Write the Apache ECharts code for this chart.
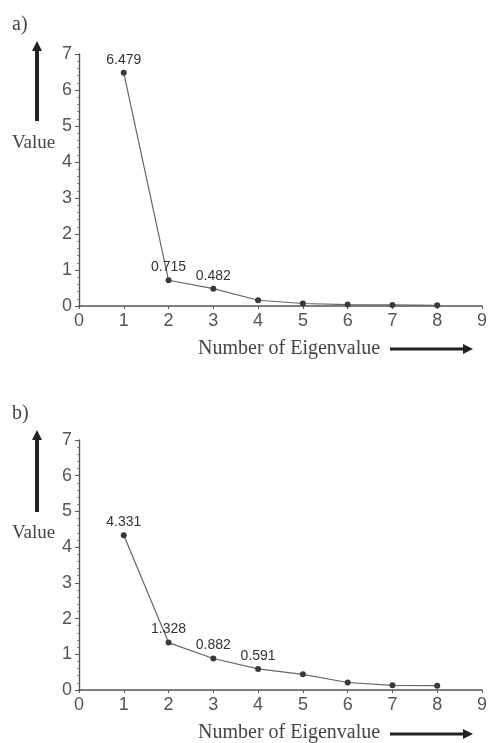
<!DOCTYPE html>
<html>
<head>
<meta charset="utf-8">
<script src="https://cdn.jsdelivr.net/npm/echarts@6/dist/echarts.min.js"></script>
<style>
html,body{margin:0;padding:0;background:#fff;}
#chart{width:490px;height:743px;}
</style>
</head>
<body>
<div id="chart"></div>
<script>
// Data
const eigenNumbers = [1, 2, 3, 4, 5, 6, 7, 8];
const valuesA = [6.479, 0.715, 0.482, 0.16, 0.07, 0.04, 0.03, 0.02];
const labeledA = [true, true, true, false, false, false, false, false];
const valuesB = [4.331, 1.328, 0.882, 0.591, 0.44, 0.21, 0.13, 0.12];
const labeledB = [true, true, true, true, false, false, false, false];
const xTicks = [0, 1, 2, 3, 4, 5, 6, 7, 8, 9];
const yTicks = [0, 1, 2, 3, 4, 5, 6, 7];
const panelLabels = ['a)', 'b)'];
const yTitle = 'Value';
const xTitle = 'Number of Eigenvalue';

const chart = echarts.init(document.getElementById('chart'));

function mkData(vals, flags) {
  return eigenNumbers.map((n, i) => ({
    value: [n, vals[i]],
    label: { show: flags[i] }
  }));
}

const axisColor = '#555';
function xAxis(gi) {
  return {
    gridIndex: gi, type: 'value',
    min: xTicks[0], max: xTicks[xTicks.length - 1], interval: 1,
    axisLine: { lineStyle: { color: axisColor, width: 1.6 } },
    axisTick: { show: true, length: 3, lineStyle: { color: axisColor } },
    splitLine: { show: false },
    axisLabel: { color: '#555', fontSize: 18, fontFamily: 'Liberation Sans', margin: 6 }
  };
}
function yAxis(gi) {
  return {
    gridIndex: gi, type: 'value',
    min: yTicks[0], max: yTicks[yTicks.length - 1], interval: 1,
    axisLine: { show: true, lineStyle: { color: axisColor, width: 1.4 } },
    axisTick: { show: true, length: 4, inside: false, lineStyle: { color: axisColor } },
    minorTick: { show: true, splitNumber: 5, length: 2, lineStyle: { color: '#888' } },
    splitLine: { show: false },
    axisLabel: { color: '#555', fontSize: 18, fontFamily: 'Liberation Sans', margin: 7 }
  };
}
function series(gi, vals, flags) {
  return {
    type: 'line', xAxisIndex: gi, yAxisIndex: gi,
    data: mkData(vals, flags),
    symbol: 'circle', symbolSize: 6,
    lineStyle: { color: '#666', width: 1.2 },
    itemStyle: { color: '#3a3a3a' },
    label: {
      position: 'top', distance: 3,
      color: '#333', fontSize: 14, fontFamily: 'Liberation Sans',
      formatter: p => p.value[1].toFixed(3)
    },
    animation: false
  };
}

function arrowUp(x, y1, y2) {
  return [
    { type: 'line', shape: { x1: x, y1: y2, x2: x, y2: y1 + 8 }, style: { stroke: '#222', lineWidth: 4 } },
    { type: 'polygon', shape: { points: [[x - 5, y1 + 10], [x + 5, y1 + 10], [x, y1]] }, style: { fill: '#222' } }
  ];
}
function arrowRight(x1, x2, y) {
  return [
    { type: 'line', shape: { x1: x1, y1: y, x2: x2 - 8, y2: y }, style: { stroke: '#222', lineWidth: 3 } },
    { type: 'polygon', shape: { points: [[x2 - 10, y - 5], [x2 - 10, y + 5], [x2, y]] }, style: { fill: '#222' } }
  ];
}
const serif = 'Liberation Serif';
function txt(x, y, text, size) {
  return { type: 'text', x: x, y: y, style: { text: text, font: size + 'px ' + serif, fill: '#444', textVerticalAlign: 'middle', textAlign: 'left' } };
}
const graphics = [
  txt(12, 25, panelLabels[0], 20),
  txt(12, 414, panelLabels[1], 20),
  txt(12, 143, yTitle, 19),
  txt(12, 533, yTitle, 19),
  txt(198, 349, xTitle, 20),
  txt(198, 733, xTitle, 20),
  ...arrowUp(37, 41, 121),
  ...arrowUp(37, 430, 512),
  ...arrowRight(390, 473, 349),
  ...arrowRight(390, 473, 734)
];

chart.setOption({
  backgroundColor: '#fff',
  animation: false,
  grid: [
    { left: 79, right: 6, top: 54, height: 252 },
    { left: 79, right: 6, top: 440, height: 250 }
  ],
  xAxis: [xAxis(0), xAxis(1)],
  yAxis: [yAxis(0), yAxis(1)],
  series: [series(0, valuesA, labeledA), series(1, valuesB, labeledB)],
  graphic: graphics
});
</script>
</body>
</html>
